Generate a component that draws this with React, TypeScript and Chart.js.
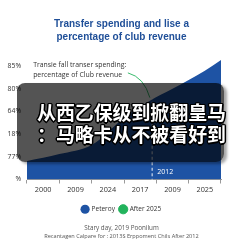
import React, { useEffect, useRef } from 'react';
import { Chart, registerables } from 'chart.js';

Chart.register(...registerables);

const titleLines = ['Transfer spending and lise a', 'percentage of club revenue'];
const categories = ['2000', '2009', '2024', '2017', '2009', '2025'];
const yTickValues = [0, 1, 2, 3, 4, 5];
const yTickLabels = ['%', '77%', '18%', '64%', '80%', '85%'];
const areaX = [0, 1, 2, 3, 3.8, 4.5, 5, 5.5, 6];
const areaY = [0.81, 1.12, 1.52, 2.71, 3.46, 3.99, 4.38, 4.78, 5.26];
const seriesNames = ['Peteroy', 'After 2025'];
const noteLines = ['Transie fall transer spending:', 'percentage of Club revenue'];
const noteAnchor = [0.19, 5.05];
const connectorPts = [[3.12, 4.69], [3.62, 4.5], [3.8, 3.6]];
const markerX = 3.87;
const markerTop = 3.66;
const markerLabel = '2012';
const footerLines = ['Stary day, 2019 Poonilum', 'Recantagen Calpare for : 2013S Erppoment Chils After 2012'];
const footerSizes = [6.3, 5.6];
const captionLines = ['从西乙保级到掀翻皇马', '：马略卡从不被看好到'];

const BLUE = '#1e53a4';
const GREEN = '#22b35c';

const annotationPlugin = {
  id: 'annot',
  afterDatasetsDraw(chart: any) {
    const ctx = chart.ctx;
    const xs = chart.scales.x2;
    const ys = chart.scales.y;
    ctx.save();
    const mx = xs.getPixelForValue(markerX);
    ctx.strokeStyle = 'rgba(255,255,255,0.95)';
    ctx.lineWidth = 1;
    ctx.setLineDash([3, 2.5]);
    ctx.beginPath();
    ctx.moveTo(mx, ys.getPixelForValue(markerTop));
    ctx.lineTo(mx, ys.getPixelForValue(0));
    ctx.stroke();
    ctx.setLineDash([]);
    ctx.fillStyle = '#ffffff';
    ctx.font = '7px "Open Sans", sans-serif';
    ctx.textBaseline = 'middle';
    ctx.textAlign = 'left';
    ctx.fillText(markerLabel, mx + 5, ys.getPixelForValue(0.33));
    ctx.fillStyle = '#333333';
    ctx.font = '6.9px "Open Sans", sans-serif';
    const nx = xs.getPixelForValue(noteAnchor[0]);
    const ny = ys.getPixelForValue(noteAnchor[1]);
    noteLines.forEach((t, i) => ctx.fillText(t, nx, ny + i * 10.5));
    ctx.strokeStyle = GREEN;
    ctx.lineWidth = 0.9;
    ctx.beginPath();
    ctx.moveTo(xs.getPixelForValue(connectorPts[0][0]), ys.getPixelForValue(connectorPts[0][1]));
    ctx.quadraticCurveTo(
      xs.getPixelForValue(connectorPts[1][0]), ys.getPixelForValue(connectorPts[1][1]),
      xs.getPixelForValue(connectorPts[2][0]), ys.getPixelForValue(connectorPts[2][1])
    );
    ctx.stroke();
    ctx.restore();
  },
  afterDraw(chart: any) {
    const ctx = chart.ctx;
    ctx.save();
    ctx.fillStyle = '#555';
    ctx.textAlign = 'center';
    ctx.textBaseline = 'middle';
    const cx = chart.width / 2;
    footerLines.forEach((t, i) => {
      ctx.font = `${footerSizes[i]}px "Open Sans", sans-serif`;
      ctx.fillText(t, cx, chart.height - 15 + i * 8.5);
    });
    ctx.restore();
  },
};

export default function App() {
  const ref = useRef<HTMLCanvasElement>(null);
  useEffect(() => {
    if (!ref.current) return;
    const chart = new Chart(ref.current, {
      type: 'line',
      data: {
        labels: categories,
        datasets: [
          {
            label: seriesNames[0],
            data: areaX.map((x, i) => ({ x, y: areaY[i] })),
            xAxisID: 'x2',
            fill: 'origin',
            backgroundColor: BLUE,
            borderColor: BLUE,
            borderWidth: 0,
            pointRadius: 0,
            pointBackgroundColor: BLUE,
            cubicInterpolationMode: 'monotone',
          } as any,
          {
            label: seriesNames[1],
            data: [],
            xAxisID: 'x2',
            backgroundColor: GREEN,
            borderColor: GREEN,
            pointBackgroundColor: GREEN,
            pointBorderColor: GREEN,
          } as any,
        ],
      },
      options: {
        animation: false,
        responsive: true,
        maintainAspectRatio: false,
        layout: { padding: { left: 0, right: 0, top: 0, bottom: 20.5 } },
        scales: {
          x: {
            type: 'category',
            offset: true,
            grid: { drawOnChartArea: false, offset: true, tickLength: 4, color: '#9a9a9a' },
            border: { display: true, color: '#9a9a9a' },
            ticks: { color: '#333', font: { size: 7.3, family: '"Open Sans", sans-serif' }, padding: 2, maxRotation: 0 },
            afterFit: (s: any) => { s.height = 21.5; },
          },
          x2: { type: 'linear', min: 0, max: 6, display: false },
          y: {
            min: 0,
            max: 5.3,
            grid: { display: false, drawTicks: false },
            border: { display: false },
            afterBuildTicks: (s: any) => { s.ticks = yTickValues.map((v) => ({ value: v })); },
            ticks: {
              color: '#333',
              font: { size: 6.8, family: '"Open Sans", sans-serif' },
              padding: 6,
              callback: (v: any) => yTickLabels[yTickValues.indexOf(Number(v))] ?? '',
            },
            afterFit: (s: any) => { s.width = 27; },
          },
          yR: {
            position: 'right',
            display: true,
            grid: { display: false, drawTicks: false },
            border: { display: false },
            ticks: { display: false },
            afterFit: (s: any) => { s.width = 22; },
          },
        },
        plugins: {
          title: {
            display: true,
            text: titleLines,
            color: '#1f4f98',
            font: { size: 10, weight: 'bold', family: '"Liberation Sans", Arial, sans-serif', lineHeight: 1.3 },
            padding: { top: 18, bottom: 15 },
          },
          legend: {
            position: 'bottom',
            labels: {
              usePointStyle: true,
              pointStyle: 'circle',
              boxWidth: 7,
              boxHeight: 7,
              padding: 5,
              color: '#333',
              font: { size: 6.5, family: '"Open Sans", sans-serif' },
            },
          },
          tooltip: { enabled: false },
        },
      },
      plugins: [annotationPlugin],
    });
    return () => chart.destroy();
  }, []);

  return (
    <div style={{ position: 'absolute', left: 0, top: 0, width: 243, height: 243, background: '#fff', overflow: 'hidden' }}>
      <canvas ref={ref} width={243} height={243} />
      <div
        style={{
          position: 'absolute', left: 17, top: 83, width: 207, height: 79,
          background: 'rgba(0,0,0,0.67)', borderRadius: 8,
          boxShadow: '3px 2px 3px rgba(0,0,0,0.35)',
        }}
      />
      <div
        style={{
          position: 'absolute', left: 37, top: 101, whiteSpace: 'nowrap',
          color: '#fff', fontWeight: 'bold', fontSize: 18.9, lineHeight: '22px',
          fontFamily: '"Noto Sans CJK SC", sans-serif',
          textShadow: '1px 1px 0 #000, -1px -1px 0 #000, 1px -1px 0 #000, -1px 1px 0 #000, 1.5px 0 0 #000, -1.5px 0 0 #000, 0 1.5px 0 #000, 0 -1.5px 0 #000',
        }}
      >
        {captionLines.map((l, i) => <div key={i}>{l}</div>)}
      </div>
    </div>
  );
}
